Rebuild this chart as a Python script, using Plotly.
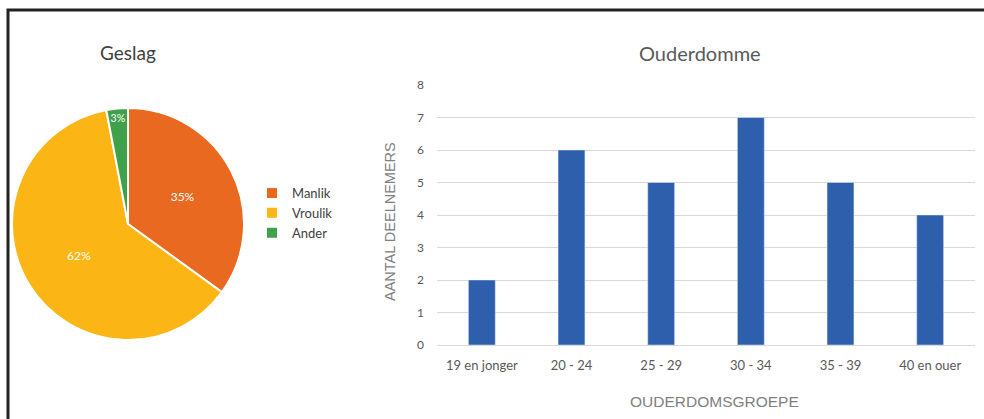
import plotly.graph_objects as go

# ---- data ----
gender_labels = ["Manlik", "Vroulik", "Ander"]
gender_pct = [35, 62, 3]
age_groups = ["19 en jonger", "20 - 24", "25 - 29", "30 - 34", "35 - 39", "40 en ouer"]
age_counts = [2, 6, 5, 7, 5, 4]

W, H = 984, 419
def px(x):
    return x / W
def py(y):
    return 1 - y / H

pie_colors = ["#E8691F", "#FBB615", "#3FA24A"]
bar_color = "#2E5FAD"
font_main = "Lato, Open Sans, sans-serif"
font_axis = "Liberation Sans, Arial, sans-serif"

fig = go.Figure()

# pie
cx, cy, r = 128, 224, 116
fig.add_trace(go.Pie(
    labels=gender_labels,
    values=gender_pct,
    sort=False,
    direction="clockwise",
    rotation=0,
    marker=dict(colors=pie_colors, line=dict(color="white", width=2)),
    texttemplate="%{percent:.0%}",
    textposition="inside",
    insidetextorientation="horizontal",
    textfont=dict(color="white", size=12, family=font_main),
    domain=dict(x=[px(cx - r), px(cx + r)], y=[py(cy + r), py(cy - r)]),
    showlegend=True,
    hoverinfo="label+percent",
))

# bars
fig.add_trace(go.Bar(
    x=age_groups,
    y=age_counts,
    marker=dict(color=bar_color),
    showlegend=False,
    xaxis="x",
    yaxis="y",
))

fig.update_layout(
    width=W, height=H,
    margin=dict(l=0, r=0, t=0, b=0, autoexpand=False),
    paper_bgcolor="white",
    plot_bgcolor="white",
    bargap=0.7,
    font=dict(family=font_main, color="#595959"),
    xaxis=dict(
        domain=[px(437), px(975)],
        anchor="y",
        automargin=False,
        showgrid=False,
        showline=True, linecolor="#D9D9D9", linewidth=1,
        ticks="", ticklabelstandoff=8,
        tickfont=dict(size=13, color="#595959", family=font_main),
        fixedrange=True,
    ),
    yaxis=dict(
        domain=[py(345), py(85)],
        anchor="x",
        automargin=False,
        range=[0, 8],
        dtick=1,
        showgrid=True, gridcolor="#D9D9D9", gridwidth=1,
        zeroline=False,
        ticks="", ticklabelstandoff=12,
        tickfont=dict(size=12, color="#595959", family=font_main),
        fixedrange=True,
    ),
    legend=dict(
        x=px(252), y=py(178), xanchor="left", yanchor="top",
        font=dict(size=13, color="#404040", family=font_main),
        bgcolor="rgba(0,0,0,0)",
        itemwidth=30,
        tracegroupgap=4,
    ),
    annotations=[
        dict(text="Geslag", x=px(128), y=py(53), xref="paper", yref="paper",
             showarrow=False, xanchor="center", yanchor="middle",
             font=dict(size=19, color="#404040", family=font_main)),
        dict(text="Ouderdomme", x=px(700), y=py(53), xref="paper", yref="paper",
             showarrow=False, xanchor="center", yanchor="middle",
             font=dict(size=20, color="#595959", family=font_main)),
        dict(text="OUDERDOMSGROEPE", x=px(714), y=py(401), xref="paper", yref="paper",
             showarrow=False, xanchor="center", yanchor="middle",
             font=dict(size=15.5, color="#808080", family=font_axis)),
        dict(text="AANTAL DEELNEMERS", x=px(390), y=py(222), xref="paper", yref="paper",
             showarrow=False, xanchor="center", yanchor="middle", textangle=-90,
             font=dict(size=14.5, color="#808080", family=font_axis)),
    ],
    shapes=[
        dict(type="rect", xref="paper", yref="paper",
             x0=px(8), x1=1.2, y0=-0.2, y1=py(10),
             line=dict(color="#222222", width=3), layer="below"),
    ],
)

fig.write_html("out.html", config={"displayModeBar": False})
